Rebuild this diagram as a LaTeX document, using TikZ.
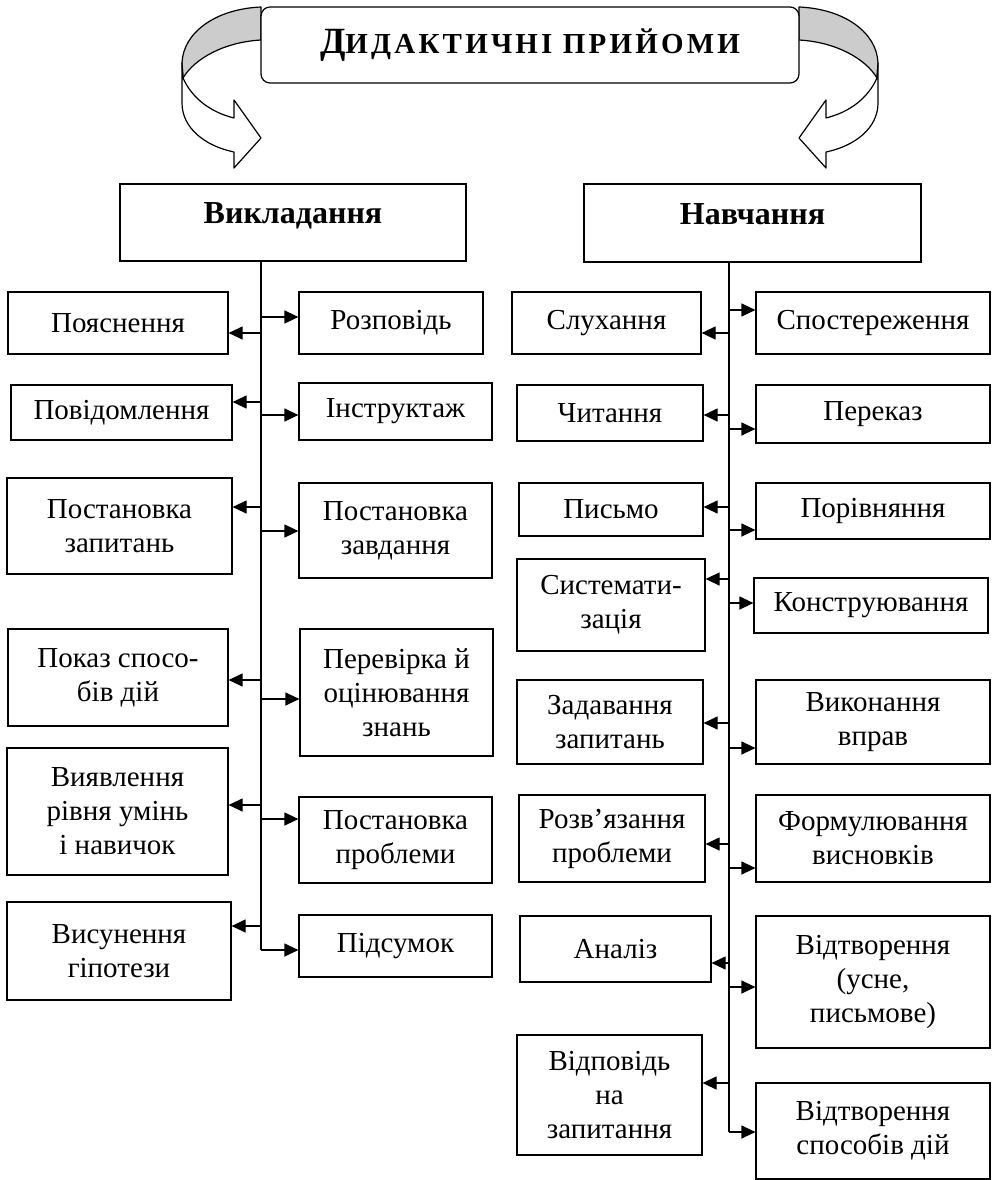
\documentclass[tikz,border=0pt]{standalone}
\usepackage{fontspec}
\setmainfont{Liberation Serif}
\usetikzlibrary{arrows.meta}
\tikzset{
  box/.style={draw, line width=1.2pt, align=center, inner sep=2pt, font=\fontsize{29}{34}\selectfont},
  head/.style={box, font=\fontsize{32}{34}\selectfont\bfseries, text height=21pt, text depth=19pt},
  arr/.style={line width=1.2pt, -{Triangle[length=14pt,width=13pt]}},
  ribbon/.style={draw, line width=1.2pt, line join=round}
}
\begin{document}
\begin{tikzpicture}[x=1pt, y=-1pt]
\useasboundingbox (0,0) rectangle (992,1180);
\foreach \s in {1,-1} {
  \begin{scope}[xshift=530pt, xscale=\s]
    \draw[ribbon, fill=black!20] (-269,7) .. controls (-315,9) and (-347,33) .. (-348,63)
      -- (-347,78) .. controls (-335,58) and (-305,42) .. (-269,40) -- cycle;
    \draw[ribbon, fill=white] (-347,78) .. controls (-338,98) and (-320,112) .. (-296,118)
      -- (-296,100) -- (-269,138) -- (-296,168) -- (-296,152)
      .. controls (-325,146) and (-348,128) .. (-348,103) -- (-348,63) -- cycle;
  \end{scope}
}
\node[draw, fill=white, rounded corners=9pt, line width=1.2pt, minimum width=538pt, minimum height=76pt] (title) at (530,45)
  {\bfseries\addfontfeatures{LetterSpace=11}\fontsize{37}{37}\selectfont Д\fontsize{29}{29}\selectfont ИДАКТИЧНІ ПРИЙОМИ};

\node[head, minimum width=346pt, minimum height=77pt] (vykl) at (293,222.5) {Викладання};
\node[head, minimum width=337pt, minimum height=78pt] (navch) at (752.5,223) {Навчання};
\coordinate (tL) at (vykl.south -| 261,0);
\coordinate (tR) at (navch.south -| 729,0);

\node[box, minimum width=220pt, minimum height=62pt] (pojasn) at (118,323) {Пояснення};
\node[box, minimum width=221pt, minimum height=55pt] (povid) at (121.5,412.5) {Повідомлення};
\node[box, minimum width=225pt, minimum height=96pt] (zapyt) at (119.5,526) {Постановка\\запитань};
\node[box, minimum width=220pt, minimum height=97pt] (pokaz) at (118,677.5) {Показ спосо-\\бів дій};
\node[box, minimum width=221pt, minimum height=127pt] (vyjavl) at (117.5,811.5) {Виявлення\\рівня умінь\\і навичок};
\node[box, minimum width=224pt, minimum height=98pt] (vysun) at (119,951) {Висунення\\гіпотези};

\node[box, minimum width=184pt, minimum height=62pt] (rozpov) at (391,323) {Розповідь};
\node[box, minimum width=193pt, minimum height=57pt] (instr) at (395.5,411.5) {Інструктаж};
\node[box, minimum width=193pt, minimum height=95pt] (zavd) at (395.5,530.5) {Постановка\\завдання};
\node[box, minimum width=193pt, minimum height=127pt] (perev) at (396.5,692.5) {Перевірка й\\оцінювання\\знань};
\node[box, minimum width=193pt, minimum height=86pt] (probl) at (395.5,840) {Постановка\\проблеми};
\node[box, minimum width=193pt, minimum height=62pt] (pidsum) at (395.5,946) {Підсумок};

\node[box, minimum width=189pt, minimum height=62pt] (sluh) at (606.5,323) {Слухання};
\node[box, minimum width=186pt, minimum height=56pt] (chyt) at (610,413) {Читання};
\node[box, minimum width=184pt, minimum height=53pt] (pysmo) at (611,509.5) {Письмо};
\node[box, minimum width=188pt, minimum height=92pt] (system) at (611,605) {Системати-\\зація};
\node[box, minimum width=186pt, minimum height=84pt] (zadav) at (610,722) {Задавання\\запитань};
\node[box, minimum width=186pt, minimum height=87pt] (rozvjaz) at (612,838.5) {Розв’язання\\проблеми};
\node[box, minimum width=191pt, minimum height=66pt] (analiz) at (615.5,949) {Аналіз};
\node[box, minimum width=185pt, minimum height=120pt] (vidpov) at (609.5,1095) {Відповідь\\на\\запитання};

\node[box, minimum width=234pt, minimum height=62pt] (sposter) at (873,323) {Спостереження};
\node[box, minimum width=234pt, minimum height=58pt] (perekaz) at (873,414) {Переказ};
\node[box, minimum width=234pt, minimum height=56pt] (porivn) at (873,511) {Порівняння};
\node[box, minimum width=234pt, minimum height=55pt] (konstr) at (871,605.5) {Конструювання};
\node[box, minimum width=234pt, minimum height=84pt] (vykon) at (873,722) {Виконання\\вправ};
\node[box, minimum width=234pt, minimum height=87pt] (formul) at (873,838.5) {Формулювання\\висновків};
\node[box, minimum width=234pt, minimum height=132pt] (vidtv) at (873,982) {Відтворення\\(усне,\\письмове)};
\node[box, minimum width=234pt, minimum height=96pt] (vidtvsp) at (873,1131) {Відтворення\\способів дій};

\draw[line width=1.2pt] (tL) -- (tL |- 0,950);
\draw[line width=1.2pt] (tR) -- (tR |- 0,1132);
\foreach \n/\y in {pojasn/333, povid/402, zapyt/507, pokaz/680, vyjavl/805, vysun/926}
  \draw[arr] (tL |- 0,\y) -- (\n.east |- 0,\y);
\foreach \n/\y in {rozpov/317, instr/415, zavd/531, perev/699, probl/819, pidsum/950}
  \draw[arr] (tL |- 0,\y) -- (\n.west |- 0,\y);
\foreach \n/\y in {sluh/333, chyt/415, pysmo/507, system/579, zadav/723, rozvjaz/844, analiz/963, vidpov/1083}
  \draw[arr] (tR |- 0,\y) -- (\n.east |- 0,\y);
\foreach \n/\y in {sposter/310, perekaz/429, porivn/530, konstr/603, vykon/748, formul/868, vidtv/987, vidtvsp/1132}
  \draw[arr] (tR |- 0,\y) -- (\n.west |- 0,\y);
\end{tikzpicture}
\end{document}
